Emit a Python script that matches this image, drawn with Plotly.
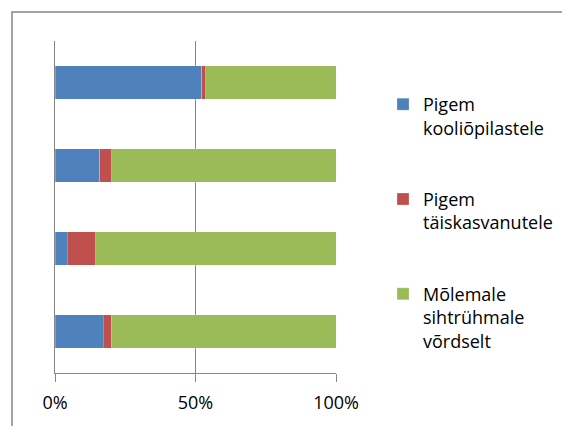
import plotly.graph_objects as go

categories = ["D", "C", "B", "A"]  # bottom to top
series_names = ["Pigem<br>kooliõpilastele", "Pigem<br>täiskasvanutele", "Mõlemale<br>sihtrühmale<br>võrdselt"]
blue_vals = [0.171, 0.043, 0.160, 0.523]
red_vals = [0.029, 0.102, 0.042, 0.013]
green_vals = [0.800, 0.855, 0.798, 0.464]
colors = ["#4F81BD", "#C0504D", "#9BBB59"]
tick_vals = [0, 0.5, 1.0]
tick_text = ["0%", "50%", "100%"]

W, H = 570, 426
L, R, T, B = 47, 242, 33, 61
pw, ph = W - L - R, H - T - B

fig = go.Figure()
for i, (name, vals) in enumerate(zip(series_names, [blue_vals, red_vals, green_vals])):
    fig.add_trace(go.Bar(
        y=categories, x=vals, orientation="h", name=name,
        marker=dict(color=colors[i], line=dict(color="rgba(255,255,255,0.5)", width=0.5)),
        legendgroup=f"g{i}",
    ))

fig.update_layout(
    barmode="stack",
    bargap=0.6,
    width=W, height=H,
    margin=dict(l=L, r=R, t=T, b=B),
    paper_bgcolor="white", plot_bgcolor="white",
    font=dict(family="Open Sans, sans-serif", size=18, color="#000000"),
    xaxis=dict(range=[0, 1], tickvals=tick_vals, ticktext=tick_text,
               showgrid=True, gridcolor="#868686", gridwidth=1.3,
               showline=True, linecolor="#868686", linewidth=1.3,
               ticks="outside", ticklen=8, tickcolor="#868686", tickwidth=1.3,
               zeroline=False, fixedrange=True, tickfont=dict(size=18),
               ticklabelstandoff=5),
    yaxis=dict(showticklabels=False, showgrid=False, zeroline=False,
               showline=True, linecolor="#868686", linewidth=1.3, ticks=""),
    legend=dict(x=(383 - 55) / 281, xanchor="left", y=1 - (86 - 41) / 332, yanchor="top",
                traceorder="grouped", tracegroupgap=45, valign="top",
                font=dict(size=18), itemwidth=30),
    showlegend=True,
    shapes=[dict(type="rect", xref="paper", yref="paper",
                 x0=(4 - L) / pw, x1=(580 - L) / pw,
                 y0=-(B + 10) / ph, y1=1 + (T - 4) / ph,
                 line=dict(color="#868686", width=1.5), layer="below")],
)

fig.write_html("out.html")
